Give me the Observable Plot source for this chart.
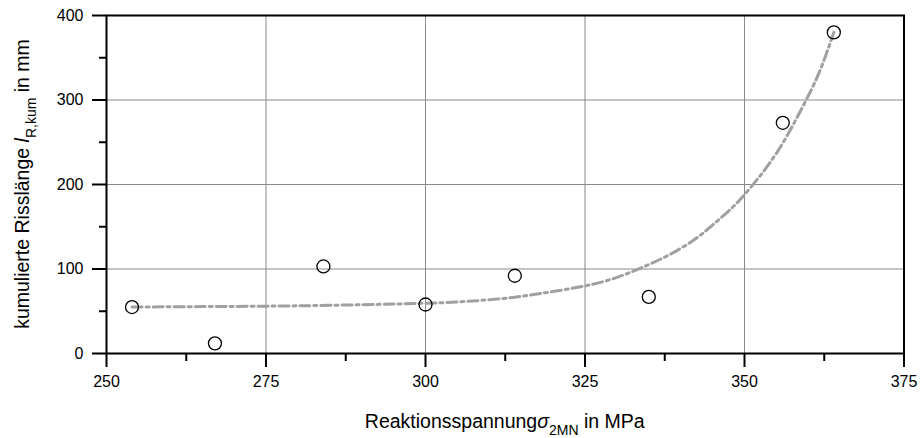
<!DOCTYPE html>
<html><head><meta charset="utf-8">
<script src="https://cdn.jsdelivr.net/npm/d3@7"></script>
<script src="https://cdn.jsdelivr.net/npm/@observablehq/plot@0.6"></script>
<style>
body{margin:0;background:#fff;}
#chart svg{display:block;}
</style>
</head><body><div id="chart"></div>
<script>
// measured points
const stress = [254, 267, 284, 300, 314, 335, 356, 364];
const crackLength = [55, 12, 103, 58, 92, 67, 273, 380];
// fitted trend curve
const fitStress = [254, 265, 275, 285, 295, 300, 305, 312, 318, 325, 330, 334, 338, 342, 345, 348, 350, 352, 354, 356, 358, 360, 362, 364];
const fitLength = [55, 55.5, 56, 57, 58.5, 59.5, 61, 65, 71, 80, 90, 102, 116, 134, 152, 172, 188, 206, 226, 249, 276, 305, 338, 380];
// ticks
const xTicks = [250, 275, 300, 325, 350, 375];
const xMinorTicks = [262.5, 287.5, 312.5, 337.5, 362.5];
const yTicks = [0, 100, 200, 300, 400];
const yMinorTicks = [50, 150, 250, 350];
const xGrid = [275, 300, 325, 350];
const yGrid = [100, 200, 300];

const points = stress.map((s, i) => ({s, l: crackLength[i]}));
const fit = fitStress.map((s, i) => ({s, l: fitLength[i]}));

const font = "'Liberation Sans', Arial, Helvetica, sans-serif";
const W = 921, H = 438;
const mL = 106, mR = 17.5, mT = 15, mB = 85;

const chart = Plot.plot({
  width: W, height: H,
  marginLeft: mL, marginRight: mR, marginTop: mT, marginBottom: mB,
  style: {fontFamily: font, fontSize: "16px", color: "black", background: "white"},
  x: {domain: [250, 375]},
  y: {domain: [0, 400]},
  marks: [
    Plot.gridX(xGrid, {stroke: "#8a8a8a", strokeOpacity: 1, strokeWidth: 1}),
    Plot.gridY(yGrid, {stroke: "#8a8a8a", strokeOpacity: 1, strokeWidth: 1}),
    Plot.line(fit, {x: "s", y: "l", stroke: "#a0a0a0", strokeWidth: 3, strokeDasharray: "10,4,3,4", curve: "natural"}),
    Plot.dot(points, {x: "s", y: "l", r: 6.5, stroke: "black", strokeWidth: 1.3, fill: "none"}),
    Plot.axisX(xTicks, {tickSize: 14, tickPadding: 8, label: null, stroke: "black", strokeWidth: 2, tickFormat: d => String(d)}),
    Plot.axisX(xMinorTicks, {tickSize: 8, text: null, label: null, stroke: "black", strokeWidth: 2}),
    Plot.axisY(yTicks, {tickSize: 14, tickPadding: 9, label: null, stroke: "black", strokeWidth: 2, tickFormat: d => String(d)}),
    Plot.axisY(yMinorTicks, {tickSize: 7, text: null, label: null, stroke: "black", strokeWidth: 2}),
    Plot.frame({stroke: "black", strokeWidth: 2})
  ]
});
document.getElementById("chart").appendChild(chart);

const svg = d3.select(chart);
// tick label size
svg.selectAll("text").attr("font-size", null).style("font-size", "16px").style("font-family", font);

// axis titles with italic symbols and subscripts
const cx = mL + (W - mL - mR) / 2;
const cy = mT + (H - mT - mB) / 2;

const xl = svg.append("text")
  .attr("x", cx).attr("y", 428)
  .attr("text-anchor", "middle")
  .attr("font-family", font).attr("font-size", 19.5).attr("fill", "black");
xl.append("tspan").text("Reaktionsspannung");
xl.append("tspan").attr("font-style", "italic").text("σ");
xl.append("tspan").attr("font-size", 14).attr("dy", 7).text("2MN");
xl.append("tspan").attr("dy", -7).text(" in MPa");

const yl = svg.append("text")
  .attr("transform", `translate(29,${cy}) rotate(-90)`)
  .attr("text-anchor", "middle")
  .attr("font-family", font).attr("font-size", 19.5).attr("fill", "black");
yl.append("tspan").text("kumulierte Risslänge ");
yl.append("tspan").attr("font-style", "italic").text("l");
yl.append("tspan").attr("font-size", 14).attr("dy", 7).text("R,kum");
yl.append("tspan").attr("dy", -7).text(" in mm");
</script>
</body></html>
